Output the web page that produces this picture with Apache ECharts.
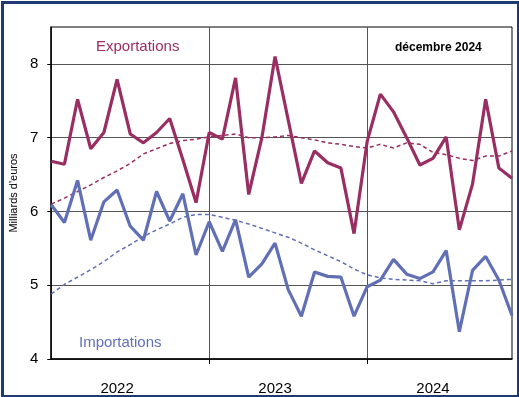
<!DOCTYPE html>
<html>
<head>
    <meta charset="UTF-8">
    <title>Exportations / Importations</title>
    <script src="https://cdn.jsdelivr.net/npm/echarts@6/dist/echarts.min.js"></script>
    <style>
        html, body { margin: 0; padding: 0; background: #fff; }
    </style>
</head>
<body>
    <div id="chart" style="width:519px; height:397px;"></div>
    <script>
        // months Jan 2022 .. Dec 2024
        var years = ['2022', '2023', '2024'];
        var months = ['01', '02', '03', '04', '05', '06', '07', '08', '09', '10', '11', '12'];
        var yTicks = [4, 5, 6, 7, 8];

        var exportations = [6.68, 6.64, 7.52, 6.85, 7.07, 7.79, 7.05, 6.93, 7.07, 7.26, 6.70, 6.12,
            7.07, 6.98, 7.81, 6.23, 7.00, 8.10, 7.24, 6.38, 6.82, 6.66, 6.59, 5.70,
            6.95, 7.59, 7.35, 7.00, 6.63, 6.72, 7.01, 5.75, 6.37, 7.52, 6.59, 6.45];
        var importations = [6.09, 5.85, 6.42, 5.61, 6.13, 6.29, 5.80, 5.61, 6.27, 5.87, 6.24, 5.41,
            5.86, 5.46, 5.89, 5.11, 5.29, 5.57, 4.94, 4.58, 5.18, 5.12, 5.11, 4.58,
            4.98, 5.07, 5.35, 5.15, 5.09, 5.18, 5.47, 4.37, 5.20, 5.39, 5.07, 4.59];
        var exportTrend = [6.10, 6.18, 6.27, 6.36, 6.46, 6.55, 6.65, 6.78, 6.85, 6.92, 6.96, 6.98,
            7.01, 7.03, 7.05, 7.00, 7.00, 7.01, 7.03, 7.00, 6.97, 6.93, 6.91, 6.88,
            6.86, 6.91, 6.86, 6.93, 6.91, 6.80, 6.77, 6.72, 6.69, 6.75, 6.75, 6.82];
        var importTrend = [4.88, 5.01, 5.11, 5.21, 5.32, 5.45, 5.55, 5.66, 5.75, 5.83, 5.92, 5.96,
            5.96, 5.92, 5.88, 5.83, 5.77, 5.71, 5.65, 5.57, 5.48, 5.40, 5.32, 5.22,
            5.14, 5.10, 5.08, 5.07, 5.06, 5.02, 5.06, 5.06, 5.06, 5.06, 5.07, 5.08];

        var categories = [];
        years.forEach(function (y) {
            months.forEach(function (m) { categories.push(y + '-' + m); });
        });

        var colExp = '#992e63';
        var colImp = '#6170b5';
        var font = '"Liberation Sans", Arial, sans-serif';

        var chart = echarts.init(document.getElementById('chart'), null, {renderer: 'canvas'});

        chart.setOption({
            animation: false,
            backgroundColor: '#fff',
            grid: {
                left: 44, top: 27, width: 468, height: 332,
                show: true, borderColor: '#000', borderWidth: 1
            },
            xAxis: {
                type: 'category',
                data: categories,
                boundaryGap: false,
                axisLine: {lineStyle: {color: '#000', width: 1.5}},
                axisTick: {
                    show: true, inside: false, length: 5,
                    interval: function (i) { return i % 12 === 0 && i > 0; },
                    lineStyle: {color: '#000'}
                },
                axisLabel: {
                    interval: function (i) { return i % 12 === 5; },
                    formatter: function (v) { return v.slice(0, 4); },
                    color: '#000', fontSize: 15, fontFamily: font, margin: 22
                },
                splitLine: {
                    show: true,
                    interval: function (i) { return i % 12 === 0 && i > 0; },
                    lineStyle: {color: '#555', width: 1}
                }
            },
            yAxis: {
                type: 'value',
                min: 4, max: 8.5,
                name: "Milliards d'euros",
                nameLocation: 'middle',
                nameGap: 31,
                nameRotate: 90,
                nameTextStyle: {color: '#000', fontSize: 11, fontFamily: font},
                axisLine: {show: true, lineStyle: {color: '#000', width: 1.5}},
                axisTick: {show: true, length: 4, customValues: yTicks, lineStyle: {color: '#000'}},
                axisLabel: {customValues: yTicks, color: '#000', fontSize: 15, fontFamily: font, margin: 13},
                splitLine: {show: true, lineStyle: {color: '#555', width: 1}}
            },
            series: [
                {
                    name: 'Exportations tendance', type: 'line', data: exportTrend,
                    symbol: 'none', silent: true,
                    lineStyle: {color: colExp, width: 1.5, type: [4, 3]}
                },
                {
                    name: 'Importations tendance', type: 'line', data: importTrend,
                    symbol: 'none', silent: true,
                    lineStyle: {color: colImp, width: 1.5, type: [4, 3]}
                },
                {
                    name: 'Exportations', type: 'line', data: exportations,
                    symbol: 'none', lineStyle: {color: colExp, width: 3.2}
                },
                {
                    name: 'Importations', type: 'line', data: importations,
                    symbol: 'none', lineStyle: {color: colImp, width: 3.2}
                }
            ],
            graphic: [
                {
                    type: 'text', left: 96, top: 39,
                    style: {text: 'Exportations', fill: colExp, font: '15px ' + font}
                },
                {
                    type: 'text', left: 79, top: 335,
                    style: {text: 'Importations', fill: colImp, font: '15px ' + font}
                },
                {
                    type: 'text', left: 395, top: 42,
                    style: {text: 'décembre 2024', fill: '#000', font: 'bold 12px ' + font}
                },
                {
                    type: 'rect', left: 0, top: 0, z: 100,
                    shape: {x: 1.5, y: 1.5, width: 516, height: 394},
                    style: {fill: 'none', stroke: '#1f3a70', lineWidth: 3}
                }
            ]
        });
    </script>
</body>
</html>
